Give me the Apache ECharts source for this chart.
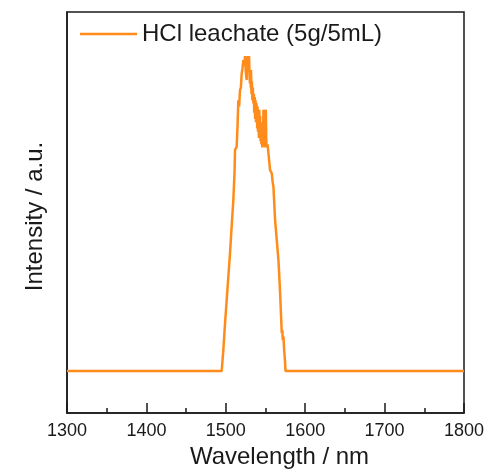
<!DOCTYPE html>
<html>
<head>
<meta charset="utf-8">
<script src="https://cdn.jsdelivr.net/npm/echarts@6/dist/echarts.min.js"></script>
<style>
  html, body { margin: 0; padding: 0; background: #fff; }
  #chart { width: 490px; height: 470px; }
</style>
</head>
<body>
<div id="chart"></div>
<script>
// Emission spectrum of the HCl leachate (wavelength in nm, intensity in a.u.)
const seriesName = 'HCl leachate (5g/5mL)';
const wavelength = [
  1300, 1494.8, 1496.9, 1499.0, 1501.1, 1503.2, 1505.3, 1507.4, 1509.5, 1511.0, 1511.6,
  1513.7, 1514.8, 1515.8, 1516.8, 1517.9, 1519.0, 1520.0, 1521.0, 1522.1, 1523.2,
  1524.2, 1525.2, 1526.3, 1527.0, 1527.6, 1528.4, 1529.3, 1530.0, 1530.5, 1531.0,
  1531.5, 1531.8, 1532.3, 1532.8, 1533.5, 1534.0, 1534.8, 1535.3, 1535.8, 1536.4,
  1536.9, 1537.5, 1538.0, 1538.6, 1539.0, 1539.6, 1540.0, 1540.6, 1541.1, 1541.7,
  1542.2, 1542.7, 1543.2, 1543.8, 1544.2, 1544.8, 1545.3, 1545.9, 1546.4, 1547.0,
  1547.4, 1548.0, 1548.7, 1549.2, 1549.6, 1550.4, 1551.0, 1551.6, 1552.6, 1553.7,
  1555.8, 1557.9, 1559.0, 1560.0, 1562.1, 1564.2, 1566.3, 1567.4, 1568.4, 1570.5,
  1571.2, 1571.8, 1572.6, 1573.5, 1574.6, 1575.2, 1800
];
const intensity = [
  0, 0, 0.067, 0.15, 0.225, 0.30, 0.374, 0.46, 0.543, 0.63, 0.702,
  0.712, 0.78, 0.860, 0.84, 0.892, 0.90, 0.945, 0.96, 0.987, 0.97,
  1.0, 0.95, 0.924, 0.99, 1.0, 0.96, 1.0, 0.93, 0.913, 0.95,
  0.90, 0.956, 0.88, 0.92, 0.86, 0.90, 0.85, 0.88, 0.82, 0.87,
  0.80, 0.86, 0.79, 0.85, 0.83, 0.77, 0.84, 0.76, 0.80, 0.74,
  0.83, 0.75, 0.81, 0.73, 0.78, 0.72, 0.76, 0.71, 0.79, 0.74,
  0.83, 0.72, 0.81, 0.71, 0.78, 0.83, 0.73, 0.71, 0.72, 0.691,
  0.638, 0.628, 0.60, 0.585, 0.479, 0.416, 0.352, 0.30, 0.247, 0.120,
  0.13, 0.098, 0.11, 0.067, 0.03, 0, 0
];
const xTicks = [1300, 1400, 1500, 1600, 1700, 1800];

const points = wavelength.map((w, i) => [w, intensity[i]]);
const font = '"Liberation Sans", Arial, sans-serif';
const lineColor = '#ff8c1a';

const chart = echarts.init(document.getElementById('chart'), null, { renderer: 'canvas' });
chart.setOption({
  animation: false,
  backgroundColor: '#fff',
  grid: {
    left: 67, right: 26, top: 12, bottom: 57,
    containLabel: false, outerBoundsMode: 'none',
    show: true, borderColor: '#1a1a1a', borderWidth: 1.5
  },
  legend: {
    data: [seriesName],
    left: 75, top: 17,
    itemWidth: 57, itemHeight: 2.5, itemGap: 6,
    icon: 'rect',
    textStyle: { fontFamily: font, fontSize: 24, color: '#1a1a1a' }
  },
  xAxis: {
    type: 'value',
    min: xTicks[0], max: xTicks[xTicks.length - 1], interval: 100,
    name: 'Wavelength / nm',
    nameLocation: 'middle', nameGap: 31,
    nameTextStyle: { fontFamily: font, fontSize: 24, color: '#1a1a1a', padding: [0, 0, 0, 28] },
    axisLine: { show: true, onZero: false, lineStyle: { color: '#1a1a1a', width: 1.5 } },
    axisTick: { show: true, inside: true, length: 10, lineStyle: { color: '#1a1a1a', width: 1.5 } },
    minorTick: { show: true, splitNumber: 2, length: 5, lineStyle: { color: '#1a1a1a', width: 1.5 } },
    axisLabel: { fontFamily: font, fontSize: 18, color: '#1a1a1a', margin: 9, formatter: v => String(v) },
    splitLine: { show: false }
  },
  yAxis: {
    type: 'value',
    min: -0.133, max: 1.14,
    name: 'Intensity / a.u.',
    nameLocation: 'middle', nameGap: 20,
    nameTextStyle: { fontFamily: font, fontSize: 24, color: '#1a1a1a', padding: [0, 8, 0, 0] },
    axisLine: { show: true, onZero: false, lineStyle: { color: '#1a1a1a', width: 1.5 } },
    axisTick: { show: false },
    axisLabel: { show: false },
    splitLine: { show: false }
  },
  series: [{
    name: seriesName,
    type: 'line',
    data: points,
    showSymbol: false,
    lineStyle: { color: lineColor, width: 2.5 },
    itemStyle: { color: lineColor }
  }]
});
</script>
</body>
</html>
